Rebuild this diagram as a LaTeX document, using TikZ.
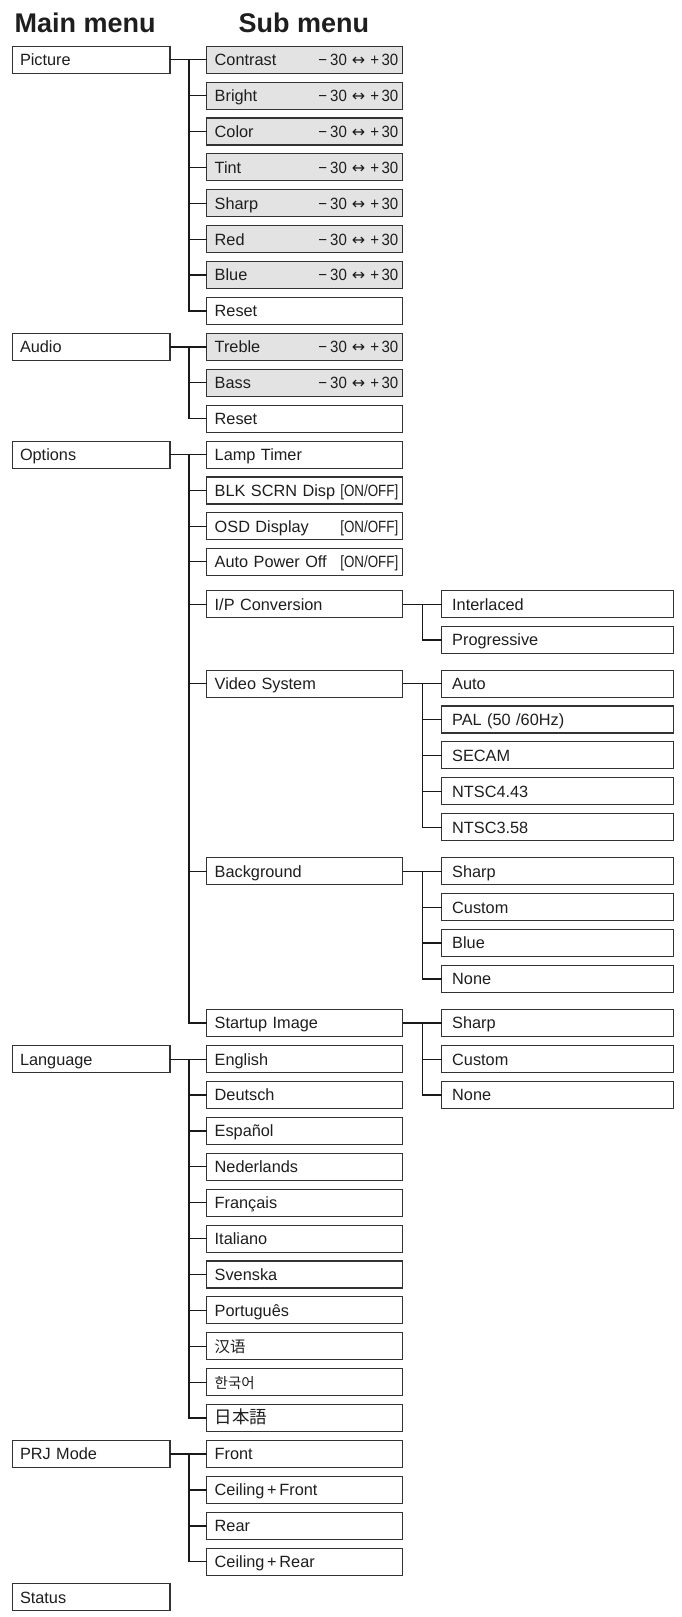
\documentclass[tikz,border=0pt]{standalone}
\usepackage{fontspec}
\setmainfont{Liberation Sans}
\newfontfamily\narrowfont[FakeStretch=0.82]{Liberation Sans}
\newfontfamily\valfont[FakeStretch=0.92]{Liberation Sans}
\newfontfamily\arrfont{DejaVu Sans}
\newfontfamily\cjksc{Noto Sans CJK SC}
\newfontfamily\cjkkr{Noto Sans CJK KR}
\newfontfamily\cjkjp{Noto Sans CJK JP}
\definecolor{txt}{HTML}{1E1E1E}
\definecolor{boxc}{HTML}{333333}
\definecolor{grayc}{HTML}{E3E3E3}
\newcommand{\rng}{{\valfont\char"2212\hspace{3pt}30\hspace{5pt}{\arrfont\fontsize{16}{18}\selectfont\char"2194}\hspace{5pt}+\hspace{2.5pt}30}}
\newcommand{\onoff}{{\narrowfont[ON/OFF]}}
\begin{document}
\begin{tikzpicture}[x=1pt,y=-1pt,
  box/.style={draw=boxc, line width=1.1pt, anchor=west, outer sep=0pt,
    minimum height=27pt, inner ysep=0pt, text height=11.7pt, text depth=0pt,
    align=left, font=\fontsize{16.3}{18}\selectfont, text=txt},
  mainbox/.style={box, inner xsep=7.7pt, text width=142.3pt},
  subbox/.style={box, inner xsep=8pt, text width=180pt},
  subsub/.style={box, inner xsep=10.5pt, text width=210.6pt},
  shade/.style={fill=grayc},
  val/.style={anchor=base east, inner sep=0pt, outer sep=0pt, text=txt, font=\fontsize{16.3}{18}\selectfont},
  title/.style={anchor=base west, inner sep=0pt, text=txt, font=\fontsize{27}{30}\selectfont\bfseries},
  conn/.style={draw=black!90, line width=1.3pt}]
\useasboundingbox[fill=white] (0,0) rectangle (682,1617);

\coordinate (mx) at (189,0);
\coordinate (sx) at (422.7,0);

% titles
\node[title] (tmain) at (14.5,32.5) {Main menu};
\node[title] (tsub) at (238.5,32.5) {Sub menu};

% main menu
\node[mainbox] (pic) at (12.3,59.7) {Picture};
\node[mainbox] (aud) at (12.3,346.9) {Audio};
\node[mainbox] (opt) at (12.3,454.6) {Options};
\node[mainbox] (lang) at (12.3,1059.4) {Language};
\node[mainbox] (prj) at (12.3,1454.1) {PRJ Mode};
\node[mainbox] (stat) at (12.3,1597.2) {Status};

% Picture
\node[subbox,shade] (con) at (206.7,59.7) {Contrast};
\node[subbox,shade] (bri) at (206.7,95.6) {Bright};
\node[subbox,shade] (col) at (206.7,131.5) {Color};
\node[subbox,shade] (tin) at (206.7,167.4) {Tint};
\node[subbox,shade] (sha) at (206.7,203.3) {Sharp};
\node[subbox,shade] (red) at (206.7,239.2) {Red};
\node[subbox,shade] (blu) at (206.7,275.1) {Blue};
\node[subbox] (prst) at (206.7,311.0) {Reset};
% Audio
\node[subbox,shade] (tre) at (206.7,346.9) {Treble};
\node[subbox,shade] (bas) at (206.7,382.8) {Bass};
\node[subbox] (arst) at (206.7,418.7) {Reset};
\foreach \n in {con,bri,col,tin,sha,red,blu,tre,bas}
  \node[val] (v-\n) at ([xshift=-4.5pt]\n.base east) {\rng};

% Options
\node[subbox] (lamp) at (206.7,454.6) {Lamp Timer};
\node[subbox] (blk) at (206.7,490.5) {BLK SCRN Disp};
\node[subbox] (osd) at (206.7,526.4) {OSD Display};
\node[subbox] (apo) at (206.7,561.6) {Auto Power Off};
\foreach \n in {blk,osd,apo}
  \node[val] (v-\n) at ([xshift=-4.5pt]\n.base east) {\onoff};
\node[subbox] (ipc) at (206.7,604.3) {I/P Conversion};
\node[subbox] (vid) at (206.7,683.6) {Video System};
\node[subbox] (bg) at (206.7,871.3) {Background};
\node[subbox] (sti) at (206.7,1023.0) {Startup Image};

\node[subsub] (inter) at (441.7,604.3) {Interlaced};
\node[subsub] (prog) at (441.7,640.0) {Progressive};
\node[subsub] (auto) at (441.7,683.6) {Auto};
\node[subsub] (pal) at (441.7,719.5) {PAL (50 /60Hz)};
\node[subsub] (secam) at (441.7,755.4) {SECAM};
\node[subsub] (n443) at (441.7,791.3) {NTSC4.43};
\node[subsub] (n358) at (441.7,827.2) {NTSC3.58};
\node[subsub] (bgs) at (441.7,871.3) {Sharp};
\node[subsub] (bgc) at (441.7,907.2) {Custom};
\node[subsub] (bgb) at (441.7,943.1) {Blue};
\node[subsub] (bgn) at (441.7,979.0) {None};
\node[subsub] (sts) at (441.7,1023.0) {Sharp};
\node[subsub] (stc) at (441.7,1059.2) {Custom};
\node[subsub] (stn) at (441.7,1095.0) {None};

% Language
\node[subbox] (en) at (206.7,1059.4) {English};
\node[subbox] (de) at (206.7,1095.0) {Deutsch};
\node[subbox] (es) at (206.7,1130.9) {Español};
\node[subbox] (nl) at (206.7,1166.8) {Nederlands};
\node[subbox] (fr) at (206.7,1202.7) {Français};
\node[subbox] (it) at (206.7,1238.6) {Italiano};
\node[subbox] (sv) at (206.7,1274.5) {Svenska};
\node[subbox] (pt) at (206.7,1310.4) {Português};
\node[subbox] (zh) at (206.7,1346.3) {{\cjksc\fontsize{15.5}{17}\selectfont 汉语}};
\node[subbox] (ko) at (206.7,1382.2) {{\cjkkr\fontsize{14.5}{16}\selectfont 한국어}};
\node[subbox] (ja) at (206.7,1418.1) {{\cjkjp\fontsize{17.5}{19}\selectfont 日本語}};

% PRJ Mode
\node[subbox] (front) at (206.7,1454.1) {Front};
\node[subbox] (cf) at (206.7,1490.0) {Ceiling\,+\,Front};
\node[subbox] (rear) at (206.7,1525.9) {Rear};
\node[subbox] (cr) at (206.7,1561.8) {Ceiling\,+\,Rear};

% connectors: Picture
\draw[conn] (pic.east) -- (con.west);
\draw[conn] (con.west -| mx) |- (prst.west);
\foreach \n in {bri,col,tin,sha,red,blu} \draw[conn] (\n.west -| mx) -- (\n.west);
% Audio
\draw[conn] (aud.east) -- (tre.west);
\draw[conn] (tre.west -| mx) |- (arst.west);
\draw[conn] (bas.west -| mx) -- (bas.west);
% Options
\draw[conn] (opt.east) -- (lamp.west);
\draw[conn] (lamp.west -| mx) |- (sti.west);
\foreach \n in {blk,osd,apo,ipc,vid,bg} \draw[conn] (\n.west -| mx) -- (\n.west);
\draw[conn] (ipc.east) -- (inter.west);
\draw[conn] (inter.west -| sx) |- (prog.west);
\draw[conn] (vid.east) -- (auto.west);
\draw[conn] (auto.west -| sx) |- (n358.west);
\foreach \n in {pal,secam,n443} \draw[conn] (\n.west -| sx) -- (\n.west);
\draw[conn] (bg.east) -- (bgs.west);
\draw[conn] (bgs.west -| sx) |- (bgn.west);
\foreach \n in {bgc,bgb} \draw[conn] (\n.west -| sx) -- (\n.west);
\draw[conn] (sti.east) -- (sts.west);
\draw[conn] (sts.west -| sx) |- (stn.west);
\draw[conn] (stc.west -| sx) -- (stc.west);
% Language
\draw[conn] (lang.east) -- (en.west);
\draw[conn] (en.west -| mx) |- (ja.west);
\foreach \n in {de,es,nl,fr,it,sv,pt,zh,ko} \draw[conn] (\n.west -| mx) -- (\n.west);
% PRJ Mode
\draw[conn] (prj.east) -- (front.west);
\draw[conn] (front.west -| mx) |- (cr.west);
\foreach \n in {cf,rear} \draw[conn] (\n.west -| mx) -- (\n.west);
\end{tikzpicture}
\end{document}
